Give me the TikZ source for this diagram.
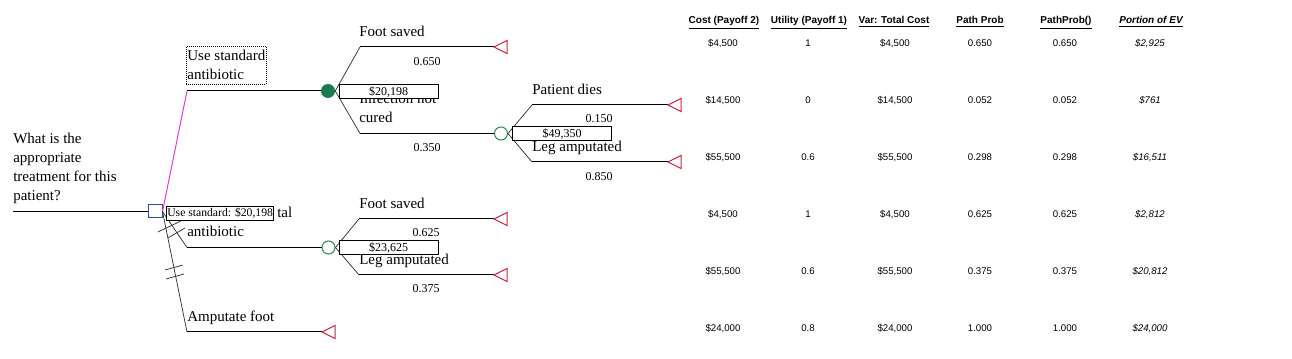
\documentclass[tikz,border=0pt]{standalone}
\usepackage{fontspec}
\setmainfont{Liberation Serif}
\newfontfamily\tabfont{Liberation Sans}
\definecolor{termred}{RGB}{210,32,60}
\definecolor{chgreen}{RGB}{27,122,80}
\definecolor{chopen}{RGB}{46,139,87}
\definecolor{decblue}{RGB}{43,79,160}
\definecolor{optmag}{RGB}{226,59,224}
\begin{document}
\begin{tikzpicture}[x=0.75pt,y=-0.75pt,
  lbl/.style={font=\fontsize{11.25}{14.25}\selectfont, anchor=base west, inner sep=0, align=left},
  prob/.style={font=\fontsize{9}{11}\selectfont, anchor=base, inner sep=0},
  valbox/.style={draw, fill=white, line width=0.75pt, font=\fontsize{9}{10}\selectfont, minimum width=74.25pt, minimum height=10.5pt, inner sep=0},
  hdr/.style={font=\tabfont\bfseries\fontsize{7.5}{9}\selectfont, anchor=base, inner sep=0},
  cell/.style={font=\tabfont\fontsize{7.25}{9}\selectfont, anchor=base, inner sep=0},
  hline/.style={line width=0.75pt, draw=black},
  diag/.style={line width=0.55pt, draw=black!80},
  optline/.style={line width=0.75pt, draw=optmag},
  term/.style={draw=termred, line width=0.75pt},
  hash/.style={line width=0.55pt, draw=black!80},
  decnode/.style={draw=decblue, line width=0.75pt, minimum width=10.5pt, minimum height=9.75pt, inner sep=0},
  chfill/.style={circle, fill=chgreen, minimum size=10.5pt, inner sep=0},
  chopn/.style={circle, draw=chopen, line width=0.75pt, minimum size=9.75pt, inner sep=0}
]
\useasboundingbox (0,0) rectangle (1292,359);

% nodes
\coordinate (r0) at (13,211.5);
\node[decnode] (d) at (155,211.5) {};
\node[chfill] (c1) at (328,91) {};
\node[chopn] (c2) at (501,133.5) {};
\node[chopn] (c3) at (328.5,247.5) {};
\coordinate (b1) at (187,91);
\coordinate (b2) at (187,247.5);
\coordinate (b3) at (187,332);
\coordinate (t6) at (322,332);
\coordinate (b11) at (360,47);
\coordinate (t1) at (494,47);
\coordinate (b12) at (360,133.5);
\coordinate (b21) at (532,105);
\coordinate (t2) at (668,105);
\coordinate (b22) at (532,162);
\coordinate (t3) at (668,162);
\coordinate (b31) at (359,219);
\coordinate (t4) at (494,219);
\coordinate (b32) at (359,275);
\coordinate (t5) at (494,275);

% connectors
\draw[hline] (r0) -- (d.west);
\draw[optline] (d.east) -- (b1);
\draw[hline] (b1) -- (c1);
\draw[diag] (d.east) -- (b2);
\draw[hline] (b2) -- (c3);
\draw[diag] (d.east) -- (b3);
\draw[hline] (b3) -- (t6);
\draw[diag] (c1.east) -- (b11);
\draw[hline] (b11) -- (t1);
\draw[diag] (c1.east) -- (b12);
\draw[hline] (b12) -- (c2);
\draw[diag] (c2.east) -- (b21);
\draw[hline] (b21) -- (t2);
\draw[diag] (c2.east) -- (b22);
\draw[hline] (b22) -- (t3);
\draw[diag] (c3.east) -- (b31);
\draw[hline] (b31) -- (t4);
\draw[diag] (c3.east) -- (b32);
\draw[hline] (b32) -- (t5);

% hash marks
\draw[hash] (158,232) -- (183,220);
\draw[hash] (168,238) -- (185,228);
\draw[hash] (165,270) -- (183,265);
\draw[hash] (166,279) -- (184,274);

% terminal triangles
\foreach \t in {t1,t2,t3,t4,t5,t6}
  \draw[term] (\t) -- ++(13,-6.5) -- ++(0,13) -- cycle;

% labels (multi-line nodes: base = last line)
\node[lbl] (q) at (13,201) {What is the\\appropriate\\treatment for this\\patient?};
\node[lbl, draw, dash pattern=on 0.75pt off 0.75pt, line width=0.6pt, inner xsep=0.75pt, inner ysep=3pt] (l1) at (186,80) {Use standard\\antibiotic};
\node[lbl] (l2a) at (277,218) {tal};
\node[lbl] (l2b) at (187,237) {antibiotic};
\node[lbl] (l3) at (187,322) {Amputate foot};
\node[lbl] (l11) at (359,37) {Foot saved};
\node[lbl] (l12) at (359,123) {Infection not\\cured};
\node[lbl] (l21) at (532,95) {Patient dies};
\node[lbl] (l22) at (532,152) {Leg amputated};
\node[lbl] (l31) at (359,208.5) {Foot saved};
\node[lbl] (l32) at (359,264.5) {Leg amputated};

% probabilities
\node[prob] (p11) at (427,66) {0.650};
\node[prob] (p12) at (427,152) {0.350};
\node[prob] (p21) at (599,123) {0.150};
\node[prob] (p22) at (599,181) {0.850};
\node[prob] (p31) at (426,237) {0.625};
\node[prob] (p32) at (426,293) {0.375};

% value boxes
\node[valbox] (v1) at (388.5,92) {\$20,198};
\node[valbox] (v2) at (562,134) {\$49,350};
\node[valbox] (v3) at (388.5,248) {\$23,625};
\node[valbox, font=\fontsize{8.75}{10}\selectfont, minimum width=0pt, anchor=west, inner xsep=0.6pt] (vd) at (166,213.5) {Use standard: \$20,198};

% table headers
\node[hdr] (h1) at (724,24) {\underline{Cost (Payoff 2)}};
\node[hdr] (h2) at (809,24) {\underline{Utility (Payoff 1)}};
\node[hdr] (h3) at (894,24) {\underline{Var: Total Cost}};
\node[hdr] (h4) at (980,24) {\underline{Path Prob}};
\node[hdr] (h5) at (1066,24) {\underline{PathProb()}};
\node[hdr] (h6) at (1151,24) {\underline{\itshape Portion of EV}};

% table rows
\node[cell] (a1) at (723,47) {\$4,500};
\node[cell] (a2) at (808,47) {1};
\node[cell] (a3) at (895,47) {\$4,500};
\node[cell] (a4) at (980,47) {0.650};
\node[cell] (a5) at (1065,47) {0.650};
\node[cell] (a6) at (1150,47) {\itshape\$2,925};

\node[cell] (b1c1) at (723,104) {\$14,500};
\node[cell] (b1c2) at (808,104) {0};
\node[cell] (b1c3) at (895,104) {\$14,500};
\node[cell] (b1c4) at (980,104) {0.052};
\node[cell] (b1c5) at (1065,104) {0.052};
\node[cell] (b1c6) at (1150,104) {\itshape\$761};

\node[cell] (c1c1) at (723,161) {\$55,500};
\node[cell] (c1c2) at (808,161) {0.6};
\node[cell] (c1c3) at (895,161) {\$55,500};
\node[cell] (c1c4) at (980,161) {0.298};
\node[cell] (c1c5) at (1065,161) {0.298};
\node[cell] (c1c6) at (1150,161) {\itshape\$16,511};

\node[cell] (d1c1) at (723,218) {\$4,500};
\node[cell] (d1c2) at (808,218) {1};
\node[cell] (d1c3) at (895,218) {\$4,500};
\node[cell] (d1c4) at (980,218) {0.625};
\node[cell] (d1c5) at (1065,218) {0.625};
\node[cell] (d1c6) at (1150,218) {\itshape\$2,812};

\node[cell] (e1c1) at (723,275) {\$55,500};
\node[cell] (e1c2) at (808,275) {0.6};
\node[cell] (e1c3) at (895,275) {\$55,500};
\node[cell] (e1c4) at (980,275) {0.375};
\node[cell] (e1c5) at (1065,275) {0.375};
\node[cell] (e1c6) at (1150,275) {\itshape\$20,812};

\node[cell] (f1c1) at (723,332) {\$24,000};
\node[cell] (f1c2) at (808,332) {0.8};
\node[cell] (f1c3) at (895,332) {\$24,000};
\node[cell] (f1c4) at (980,332) {1.000};
\node[cell] (f1c5) at (1065,332) {1.000};
\node[cell] (f1c6) at (1150,332) {\itshape\$24,000};
\end{tikzpicture}
\end{document}
